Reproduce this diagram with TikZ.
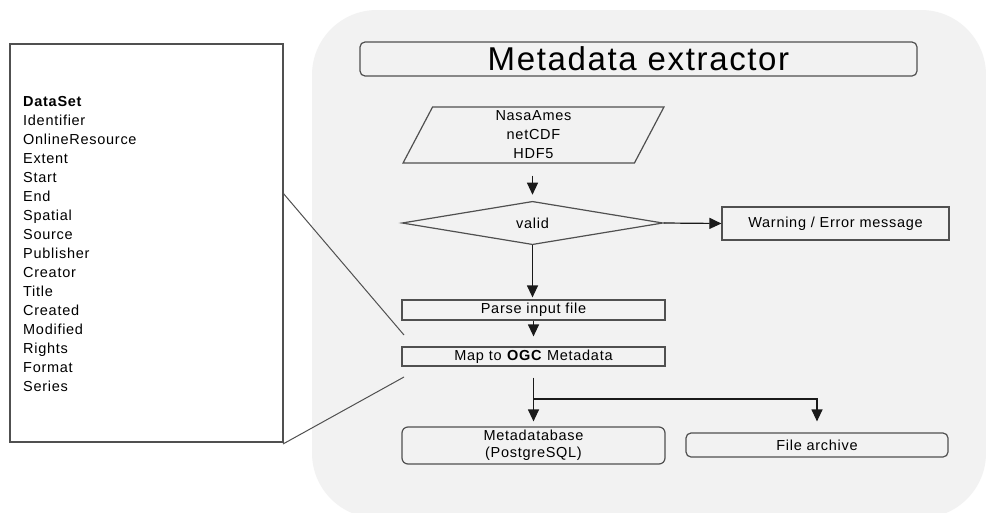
\documentclass[tikz,border=0pt]{standalone}
\usepackage{fontspec}
\setmainfont[LetterSpace=5]{Liberation Sans}
\usetikzlibrary{arrows.meta,shapes.geometric}
\definecolor{bgc}{HTML}{F2F2F2}
\definecolor{edgec}{HTML}{505050}
\definecolor{linec}{HTML}{1A1A1A}
\begin{document}
\begin{tikzpicture}[x=1pt,y=-1pt,
  box/.style={draw=edgec, line width=1.2pt, fill=bgc, inner sep=0pt, align=center,
              font=\fontsize{14.5}{19}\selectfont},
  arr/.style={draw=linec, line width=1.2pt, -{Triangle[width=11pt,length=12pt]}},
  callout/.style={draw=edgec, line width=1pt}]
\useasboundingbox (0,0) rectangle (986,512);
\fill[white] (0,0) rectangle (986,512);
\begin{scope}
  \clip (0,0) rectangle (986,512);
  \fill[bgc, rounded corners=65pt] (312,10) rectangle (986,518);
\end{scope}

% left data set box
\node[draw=edgec, fill=white, line width=1.2pt, inner sep=0pt,
      minimum width=273pt, minimum height=398pt] (dsbox) at (146.5,243) {};
\node[anchor=north west, inner sep=0pt, align=left,
      font=\fontsize{14.5}{19}\selectfont] (dslist) at (23,96.5)
  {\textbf{DataSet}\\Identifier\\OnlineResource\\Extent\\Start\\End\\Spatial\\Source\\Publisher\\Creator\\Title\\Created\\Modified\\Rights\\Format\\Series};

% title
\node[box, rounded corners=5pt, minimum width=557pt, minimum height=34pt,
      font=\fontsize{33}{38}\selectfont] (title) at (638.5,59) {Metadata extractor};

% flow
\node[box, trapezium, trapezium left angle=77, trapezium right angle=103,
      trapezium stretches=true, minimum width=263pt, minimum height=56pt]
      (input) at (533.5,135) {NasaAmes\\netCDF\\HDF5};
\node[box, diamond, minimum width=261pt, minimum height=38pt] (valid) at (532.5,223) {valid};
\node[box, minimum width=227pt, minimum height=33pt] (warn) at (835.5,223.5) {Warning / Error message};
\node[box, minimum width=263pt, minimum height=20pt] (parse) at (533.5,310) {Parse input file};
\node[box, minimum width=263pt, minimum height=19pt] (map) at (533.5,356.5) {Map to \textbf{OGC} Metadata};
\node[box, rounded corners=6pt, minimum width=263pt, minimum height=37pt,
      font=\fontsize{14.5}{17}\selectfont] (mdb) at (533.5,445.5) {Metadatabase\\(PostgreSQL)};
\node[box, rounded corners=5pt, minimum width=262pt, minimum height=24pt] (arch) at (817,445) {File archive};

% connectors
\draw[arr, shorten <=12pt, shorten >=6pt] (input.south -| valid.north) -- (valid.north);
\draw[arr] (valid.east) -- (warn.west);
\draw[arr, shorten >=2pt] (valid.south) -- (valid.south |- parse.north);
\draw[arr, shorten >=10pt] (parse.south) -- (map.north);
\draw[arr, shorten <=11pt, shorten >=5pt] (map.south) -- (mdb.north);
\coordinate (br) at (533.5,399);
\draw[arr, shorten >=11pt] (br) -| (arch.north);

% callout lines
\coordinate (d1) at (283,193);
\coordinate (d2) at (283,444);
\coordinate (m1) at (404,335);
\coordinate (m2) at (404,377);
\draw[callout] (d1) -- (m1);
\draw[callout] (d2) -- (m2);
\end{tikzpicture}
\end{document}
